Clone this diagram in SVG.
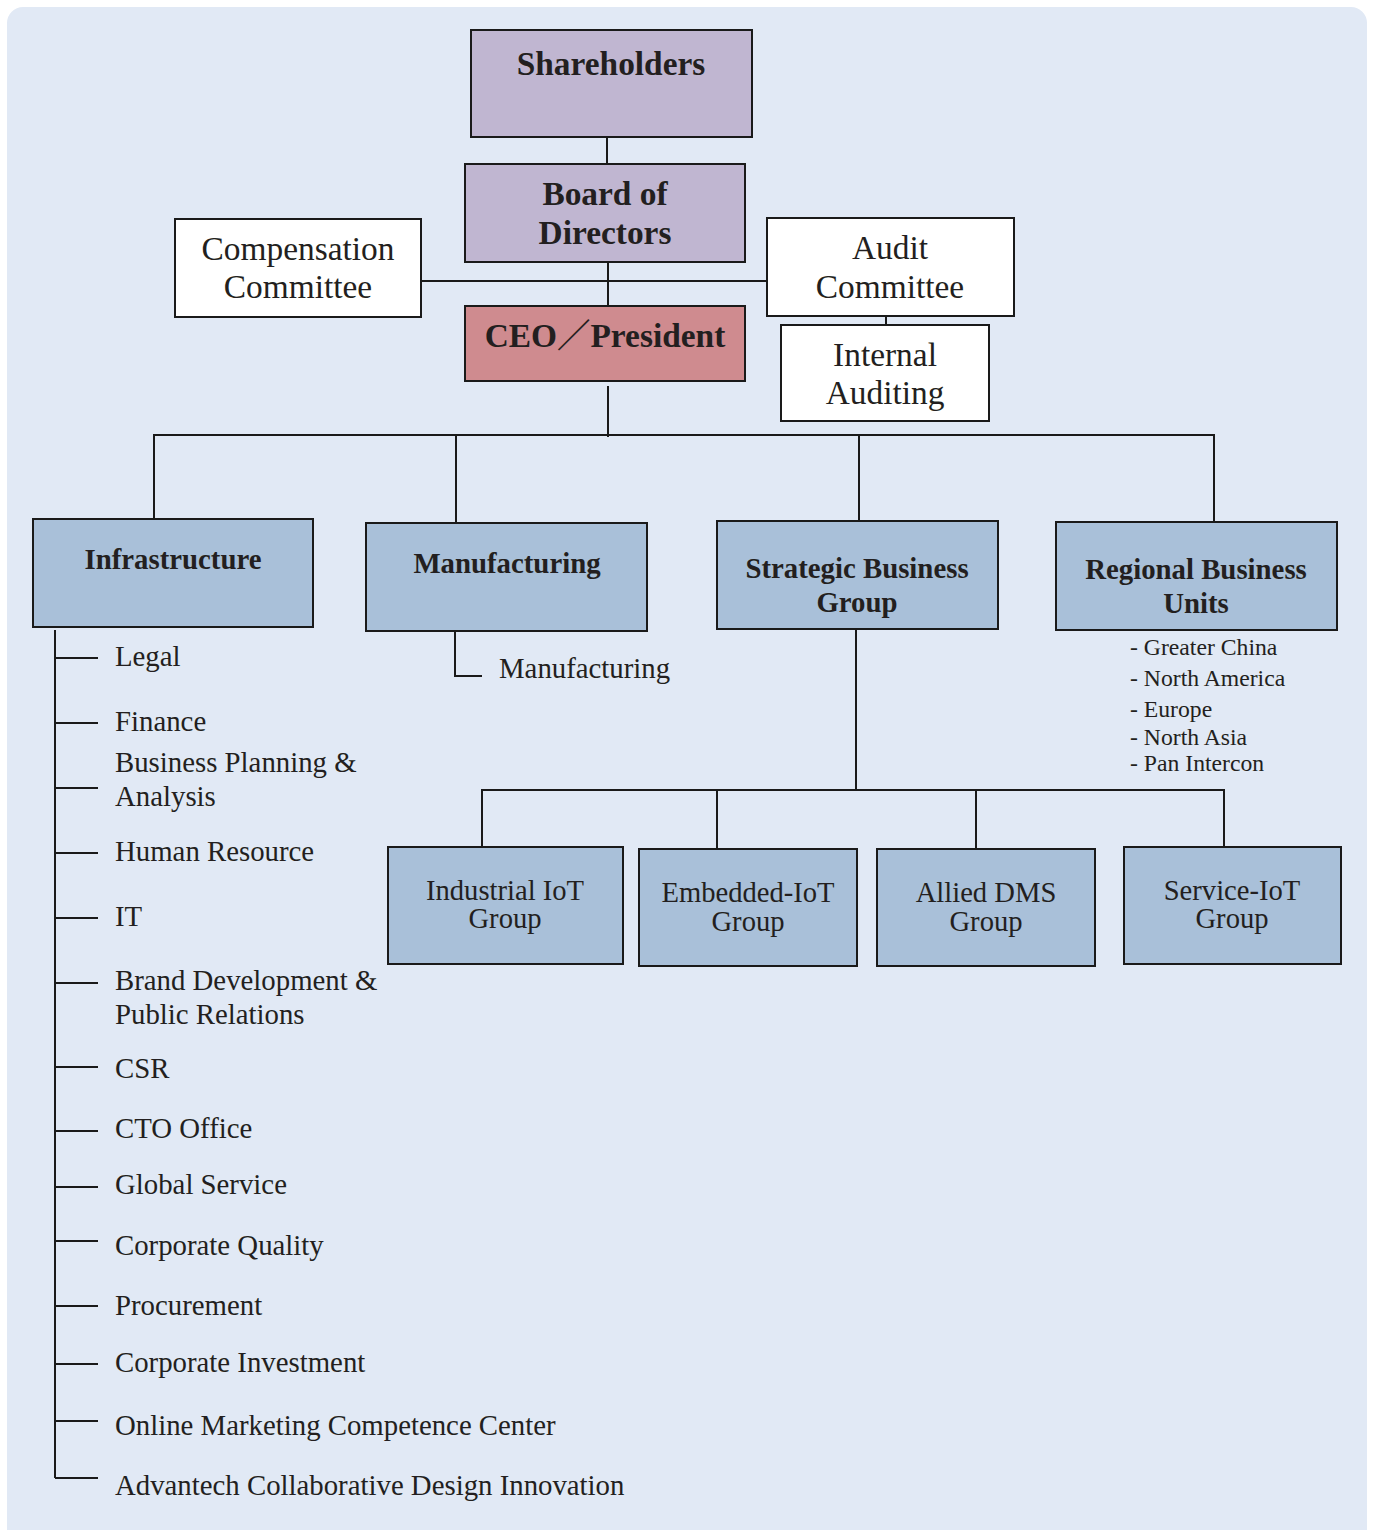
<svg xmlns="http://www.w3.org/2000/svg" width="1373" height="1530" viewBox="0 0 1373 1530">
<style>
.bx{stroke:#1a1a1a;stroke-width:2}
.pur{fill:#c0b6d1}
.blu{fill:#a9c0d9}
.ceo{fill:#cf8b8f}
.wht{fill:#ffffff}
text{font-family:"Liberation Serif","Noto Sans CJK JP",serif;fill:#231f20}
.b32{font-size:33.4px;font-weight:bold;text-anchor:middle}
.n32{font-size:33.4px;text-anchor:middle}
.b28{font-size:28.8px;font-weight:bold;text-anchor:middle}
.n28c{font-size:28.6px;text-anchor:middle}
.n28{font-size:28.8px}
.n22{font-size:23.7px}
.ln{stroke:#1a1a1a;stroke-width:2;fill:none}
</style>
<rect x="0" y="0" width="1373" height="1530" fill="#ffffff"/>
<rect x="7" y="7" width="1360" height="1540" rx="16" fill="#e1e9f5"/>
<g id="connectors">
<path class="ln" d="M607 137V164"/>
<path class="ln" d="M608 262V306"/>
<path class="ln" d="M421 281H767"/>
<path class="ln" d="M886 316V325"/>
<path class="ln" d="M608 386V437"/>
<path class="ln" d="M154 519V435H1214V522"/>
<path class="ln" d="M456 435V522"/>
<path class="ln" d="M859 435V521"/>
<path class="ln" d="M455 631V676H482"/>
<path class="ln" d="M856 629V789"/>
<path class="ln" d="M482 847V790H1224V847"/>
<path class="ln" d="M717 790V849"/>
<path class="ln" d="M976 789V849"/>
<path class="ln" d="M55 630V1478"/>
<path class="ln" d="M55 658H98M55 723H98M55 788H98M55 853H98M55 918H98M55 983H98M55 1067H98M55 1131H98M55 1187H98M55 1241H98M55 1306H98M55 1364H98M55 1421H98M55 1478H98"/>
</g>
<g id="shareholders"><rect class="bx pur" x="471" y="30" width="281" height="107"/><text class="b32" x="611" y="75">Shareholders</text></g>
<g id="board"><rect class="bx pur" x="465" y="164" width="280" height="98"/><text class="b32" x="605" y="205">Board of</text><text class="b32" x="605" y="244">Directors</text></g>
<g id="compensation"><rect class="bx wht" x="175" y="219" width="246" height="98"/><text class="n32" x="298" y="260">Compensation</text><text class="n32" x="298" y="298">Committee</text></g>
<g id="audit"><rect class="bx wht" x="767" y="218" width="247" height="98"/><text class="n32" x="890" y="259">Audit</text><text class="n32" x="890" y="298">Committee</text></g>
<g id="ceo"><rect class="bx ceo" x="465" y="306" width="280" height="75"/><text class="b32" x="605" y="347">CEO／President</text></g>
<g id="internal"><rect class="bx wht" x="781" y="325" width="208" height="96"/><text class="n32" x="885" y="366">Internal</text><text class="n32" x="885" y="404">Auditing</text></g>
<g id="infrastructure"><rect class="bx blu" x="33" y="519" width="280" height="108"/><text class="b28" x="173" y="569">Infrastructure</text></g>
<g id="manufacturing"><rect class="bx blu" x="366" y="523" width="281" height="108"/><text class="b28" x="507" y="573">Manufacturing</text></g>
<g id="sbg"><rect class="bx blu" x="717" y="521" width="281" height="108"/><text class="b28" x="857" y="578">Strategic Business</text><text class="b28" x="857" y="612">Group</text></g>
<g id="rbu"><rect class="bx blu" x="1056" y="522" width="281" height="108"/><text class="b28" x="1196" y="579">Regional Business</text><text class="b28" x="1196" y="613">Units</text></g>
<g id="rbu-list">
<text class="n22" x="1130" y="655">- Greater China</text>
<text class="n22" x="1130" y="686">- North America</text>
<text class="n22" x="1130" y="717">- Europe</text>
<text class="n22" x="1130" y="745">- North Asia</text>
<text class="n22" x="1130" y="771">- Pan Intercon</text>
</g>
<g id="mfg-sub"><text class="n28" x="499" y="678">Manufacturing</text></g>
<g id="iiot"><rect class="bx blu" x="388" y="847" width="235" height="117"/><text class="n28c" x="505" y="900">Industrial IoT</text><text class="n28c" x="505" y="928">Group</text></g>
<g id="eiot"><rect class="bx blu" x="639" y="849" width="218" height="117"/><text class="n28c" x="748" y="902">Embedded-IoT</text><text class="n28c" x="748" y="931">Group</text></g>
<g id="dms"><rect class="bx blu" x="877" y="849" width="218" height="117"/><text class="n28c" x="986" y="902">Allied DMS</text><text class="n28c" x="986" y="931">Group</text></g>
<g id="siot"><rect class="bx blu" x="1124" y="847" width="217" height="117"/><text class="n28c" x="1232" y="900">Service-IoT</text><text class="n28c" x="1232" y="928">Group</text></g>
<g id="infra-list">
<text class="n28" x="115" y="666">Legal</text>
<text class="n28" x="115" y="731">Finance</text>
<text class="n28" x="115" y="772">Business Planning &amp;</text>
<text class="n28" x="115" y="806">Analysis</text>
<text class="n28" x="115" y="861">Human Resource</text>
<text class="n28" x="115" y="926">IT</text>
<text class="n28" x="115" y="990">Brand Development &amp;</text>
<text class="n28" x="115" y="1024">Public Relations</text>
<text class="n28" x="115" y="1078">CSR</text>
<text class="n28" x="115" y="1138">CTO Office</text>
<text class="n28" x="115" y="1194">Global Service</text>
<text class="n28" x="115" y="1255">Corporate Quality</text>
<text class="n28" x="115" y="1315">Procurement</text>
<text class="n28" x="115" y="1372">Corporate Investment</text>
<text class="n28" x="115" y="1435">Online Marketing Competence Center</text>
<text class="n28" x="115" y="1495">Advantech Collaborative Design Innovation</text>
</g>
</svg>
